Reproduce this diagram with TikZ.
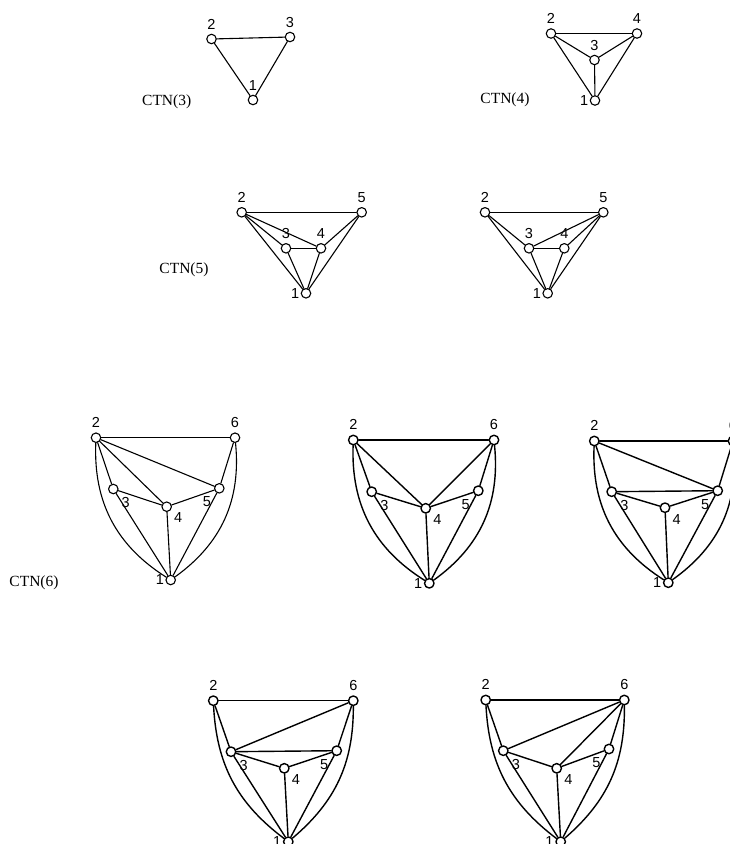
\documentclass[tikz,border=0pt]{standalone}
\usepackage{fontspec}
\setmainfont{Liberation Sans}
\newfontfamily\ctnfont{Liberation Serif}
\tikzset{
  vtx/.style={circle, draw, fill=white, inner sep=0pt, minimum size=9.5pt},
  lbl/.style={font=\fontsize{14.5}{14.5}\selectfont, inner sep=4pt},
  ctn/.style={font=\ctnfont\fontsize{15.5}{15.5}\selectfont},
  bold/.style={line width=1.4pt},
}
\begin{document}
\begin{tikzpicture}[x=1pt, y=1pt, line width=1.1pt, line join=round, line cap=round]
	\useasboundingbox (0,0) rectangle (729,-844);
	% CTN(3)
	\node[ctn] (t3) at (166.7,-102) {CTN(3)};
	\node[vtx, label={[lbl]above:2}] (a2) at (211.5,-39) {};
	\node[vtx, label={[lbl]above:3}] (a3) at (290,-37) {};
	\node[vtx, label={[lbl]above:1}] (a1) at (253,-100) {};
	\foreach \u/\v in {2/3,2/1,3/1} \draw (a\u) -- (a\v);
	% CTN(4)
	\node[ctn] (t4) at (505,-100) {CTN(4)};
	\node[vtx, label={[lbl]above:2}] (b2) at (551,-33.5) {};
	\node[vtx, label={[lbl]above:4}] (b4) at (637,-33.5) {};
	\node[vtx, label={[lbl]above:3}] (b3) at (594.5,-60) {};
	\node[vtx, label={[lbl,label distance=-3pt]left:1}] (b1) at (595,-100.5) {};
	\foreach \u/\v in {2/4,2/3,3/4,2/1,3/1,4/1} \draw (b\u) -- (b\v);
	% CTN(5)
	\node[ctn] (t5) at (184,-270) {CTN(5)};
	\node[vtx, label={[lbl]above:2}] (c2) at (241.7,-212.3) {};
	\node[vtx, label={[lbl]above:5}] (c5) at (361.7,-212.3) {};
	\node[vtx, label={[lbl]above:3}] (c3) at (286,-248.3) {};
	\node[vtx, label={[lbl]above:4}] (c4) at (321,-248.3) {};
	\node[vtx, label={[lbl,label distance=-3pt]left:1}] (c1) at (306,-293.3) {};
	\foreach \u/\v in {2/5,2/3,2/4,2/1,3/4,3/1,4/1,4/5,5/1} \draw (c\u) -- (c\v);
	\node[vtx, label={[lbl]above:2}] (d2) at (485,-212.3) {};
	\node[vtx, label={[lbl]above:5}] (d5) at (603.3,-212.3) {};
	\node[vtx, label={[lbl]above:3}] (d3) at (529,-248.3) {};
	\node[vtx, label={[lbl]above:4}] (d4) at (564.3,-248.3) {};
	\node[vtx, label={[lbl,label distance=-3pt]left:1}] (d1) at (547.7,-293.3) {};
	\foreach \u/\v in {2/5,2/3,2/1,3/5,3/4,3/1,4/5,4/1,5/1} \draw (d\u) -- (d\v);
	% CTN(6)
	\node[ctn] (t6) at (34,-583) {CTN(6)};
	\node[vtx, label={[lbl]above:2}] (e2) at (96,-437.7) {};
	\node[vtx, label={[lbl]above:6}] (e6) at (235,-437.7) {};
	\node[vtx, label={[lbl]below right:3}] (e3) at (113.3,-489) {};
	\node[vtx, label={[lbl,label distance=-2pt]-30:4}] (e4) at (166.7,-506.7) {};
	\node[vtx, label={[lbl]below left:5}] (e5) at (219.3,-488.3) {};
	\node[vtx, label={[lbl,label distance=-3pt]left:1}] (e1) at (170.7,-580) {};
	\foreach \u/\v in {2/6,2/3,2/4,2/5,3/4,4/5,4/1,3/1,5/1,6/5} \draw (e\u) -- (e\v);
	\draw (e2) to[bend right=30] (e1);
	\draw (e6) to[bend left=30] (e1);
	\begin{scope}[bold]
	\node[vtx, label={[lbl]above:2}] (f2) at (353.3,-440) {};
	\node[vtx, label={[lbl]above:6}] (f6) at (494,-440) {};
	\node[vtx, label={[lbl]below right:3}] (f3) at (371.7,-491.7) {};
	\node[vtx, label={[lbl,label distance=-2pt]-30:4}] (f4) at (425.7,-508.3) {};
	\node[vtx, label={[lbl]below left:5}] (f5) at (478.3,-490.7) {};
	\node[vtx, label={[lbl,label distance=-3pt]left:1}] (f1) at (429.3,-583.3) {};
	\foreach \u/\v in {2/6,2/3,2/4,6/4,6/5,3/4,4/5,4/1,3/1,5/1} \draw (f\u) -- (f\v);
	\draw (f2) to[bend right=30] (f1);
	\draw (f6) to[bend left=30] (f1);
	\node[vtx, label={[lbl]above:2}] (g2) at (594.3,-441) {};
	\node[vtx, label={[lbl]above:6}] (g6) at (733,-441) {};
	\node[vtx, label={[lbl]below right:3}] (g3) at (611.7,-491.7) {};
	\node[vtx, label={[lbl,label distance=-2pt]-30:4}] (g4) at (665,-507.7) {};
	\node[vtx, label={[lbl]below left:5}] (g5) at (717.7,-490.7) {};
	\node[vtx, label={[lbl,label distance=-3pt]left:1}] (g1) at (668.3,-582.7) {};
	\foreach \u/\v in {2/6,2/5,2/3,3/5,3/4,4/5,4/1,3/1,5/1,6/5} \draw (g\u) -- (g\v);
	\draw (g2) to[bend right=30] (g1);
	\draw (g6) to[bend left=30] (g1);
	\node[vtx, label={[lbl]above:2}] (h2) at (213.3,-700.7) {};
	\node[vtx, label={[lbl]above:6}] (h6) at (353.3,-700.7) {};
	\node[vtx, label={[lbl]below right:3}] (h3) at (231,-751.7) {};
	\node[vtx, label={[lbl,label distance=-2pt]-30:4}] (h4) at (284.3,-768.3) {};
	\node[vtx, label={[lbl]below left:5}] (h5) at (336.7,-750.7) {};
	\node[vtx, label={[lbl,label distance=-3pt]left:1}] (h1) at (288.3,-841.7) {};
	\foreach \u/\v in {2/6,6/3,3/5,2/3,3/4,4/5,4/1,3/1,5/1,6/5} \draw (h\u) -- (h\v);
	\draw (h2) to[bend right=25] (h1);
	\draw (h6) to[bend left=25] (h1);
	\node[vtx, label={[lbl]above:2}] (i2) at (485.7,-700) {};
	\node[vtx, label={[lbl]above:6}] (i6) at (624.3,-700) {};
	\node[vtx, label={[lbl]below right:3}] (i3) at (503.3,-750.7) {};
	\node[vtx, label={[lbl,label distance=-2pt]-30:4}] (i4) at (556.7,-768.3) {};
	\node[vtx, label={[lbl]below left:5}] (i5) at (609,-749) {};
	\node[vtx, label={[lbl,label distance=-3pt]left:1}] (i1) at (560.7,-841.7) {};
	\foreach \u/\v in {2/6,6/3,6/4,6/5,2/3,3/4,4/5,3/1,4/1,5/1} \draw (i\u) -- (i\v);
	\draw (i2) to[bend right=25] (i1);
	\draw (i6) to[bend left=25] (i1);
	\end{scope}
\end{tikzpicture}
\end{document}
